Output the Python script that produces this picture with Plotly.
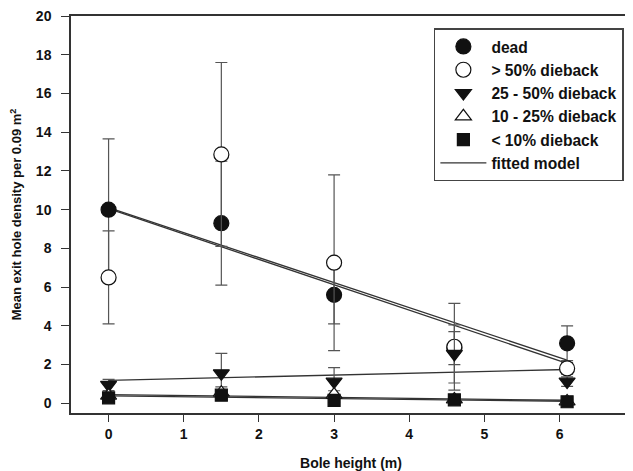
import plotly.graph_objects as go

# ---- data ----
heights = [0, 1.5, 3, 4.6, 6.1]

dead = [10.0, 9.3, 5.6, 2.85, 3.1]
dead_err = [3.65, 3.2, 1.5, 0.85, 0.9]

gt50 = [6.5, 12.85, 7.26, 2.92, 1.8]
gt50_err = [2.4, 4.75, 4.54, 2.24, 0.3]

d25_50 = [0.95, 1.55, 1.12, 2.55, 1.12]
d25_50_err = [0.29, 1.03, 0.72, 1.5, 0.25]

d10_25 = [0.4, 0.55, 0.45, 0.2, 0.1]
d10_25_err = [0.15, 0.3, 0.2, 0.15, 0.1]

lt10 = [0.28, 0.42, 0.15, 0.18, 0.08]
lt10_err = [0.1, 0.15, 0.1, 0.1, 0.05]

# fitted model: intercept, slope
fit_intercepts = [10.1, 10.05, 1.18, 0.45, 0.38]
fit_slopes = [-1.29, -1.31, 0.093, -0.048, -0.045]

names = ["dead", "> 50% dieback", "25 - 50% dieback", "10 - 25% dieback", "< 10% dieback"]
fit_name = "fitted model"
values = [dead, gt50, d25_50, d10_25, lt10]
errors = [dead_err, gt50_err, d25_50_err, d10_25_err, lt10_err]

x_ticks = [0, 1, 2, 3, 4, 5, 6, 7]
y_ticks = [0, 2, 4, 6, 8, 10, 12, 14, 16, 18, 20]

# ---- styles ----
FONT = "Liberation Sans, Arial, sans-serif"
symbols = ["circle", "circle", "triangle-down", "triangle-up", "square"]
sizes = [15, 15, 14, 14, 12]
fills = ["#111111", "white", "#111111", "white", "#111111"]

fig = go.Figure()

# fitted lines (drawn first, beneath markers)
fit_x = [heights[0], heights[-1]]
for i, (b0, b1) in enumerate(zip(fit_intercepts, fit_slopes)):
    fig.add_trace(go.Scatter(
        x=fit_x, y=[b0 + b1 * xx for xx in fit_x],
        mode="lines", line=dict(color="#333333", width=1.3),
        name="<b>%s</b>" % fit_name, showlegend=(i == 0), legendrank=6,
        hoverinfo="skip",
    ))

for i, (nm, vals, errs) in enumerate(zip(names, values, errors)):
    fig.add_trace(go.Scatter(
        x=heights, y=vals, mode="markers", name="<b>%s</b>" % nm, legendrank=i + 1,
        marker=dict(symbol=symbols[i], size=sizes[i], color=fills[i],
                    line=dict(color="#111111", width=1.2)),
        error_y=dict(type="data", array=errs, visible=True,
                     color="#555555", thickness=1.2, width=6),
    ))

fig.update_layout(
    width=633, height=471,
    margin=dict(l=61, r=10, t=8, b=66),
    paper_bgcolor="white", plot_bgcolor="white",
    font=dict(family=FONT, size=14, color="#111111"),
    showlegend=True,
    legend=dict(
        x=0.648, y=0.969, xanchor="left", yanchor="top",
        bgcolor="white", bordercolor="#444444", borderwidth=1.5,
        font=dict(family=FONT, size=15.6, color="#111111"),
        traceorder="normal", itemwidth=46,
    ),
    xaxis=dict(
        range=[-0.5, 6.95], tickvals=x_ticks,
        ticktext=["<b>%d</b>" % t for t in x_ticks],
        showgrid=False, zeroline=False, showline=True, linecolor="#333333",
        linewidth=1.5, mirror=True, ticks="outside", ticklen=7, tickwidth=1.2,
        tickcolor="#333333", automargin="bottom", ticklabeloverflow="allow",
        tickfont=dict(family=FONT, size=14, color="#111111"),
        title=dict(text="<b>Bole height (m)</b>", standoff=18,
                   font=dict(family=FONT, size=14, color="#111111")),
    ),
    yaxis=dict(
        range=[-0.5, 20], tickvals=y_ticks,
        ticktext=["<b>%d</b>" % t for t in y_ticks],
        showgrid=False, zeroline=False, showline=True, linecolor="#333333",
        linewidth=1.5, ticks="outside", ticklen=8, tickwidth=1.2,
        tickcolor="#333333", ticklabelstandoff=7, automargin="left",
        ticklabeloverflow="allow",
        tickfont=dict(family=FONT, size=14, color="#111111"),
        title=dict(text="<b>Mean exit hole density per 0.09 m<sup>2</sup></b>",
                   standoff=11,
                   font=dict(family=FONT, size=13, color="#111111")),
    ),
)

fig.write_html("out.html")
